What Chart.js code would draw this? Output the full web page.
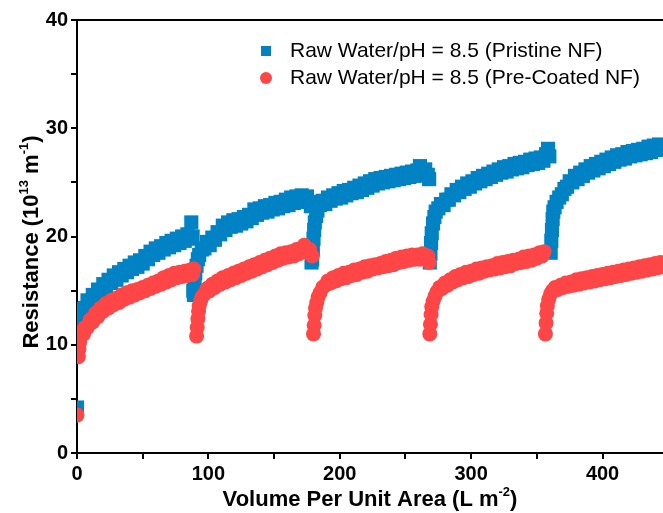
<!DOCTYPE html>
<html>
<head>
<meta charset="utf-8">
<script src="https://cdn.jsdelivr.net/npm/chart.js@4.4.0/dist/chart.umd.min.js"></script>
<style>
  html, body { margin: 0; padding: 0; background: #fff; }
  #wrap { width: 663px; height: 513px; }
</style>
</head>
<body>
<div id="wrap"><canvas id="resistance-chart" width="663" height="513"></canvas></div>
<script>
// values, 5 filtration runs per membrane
var pristineX = [0,
  1,2,3,4,6,8,10,12,14,16,18,20,22,24,26,28,30,32,34,36,38,40,42,44,46,48,50,52,54,56,58,60,62,64,66,68,70,72,74,76,78,80,82,84,86,87,88,
  88.5,89,89.5,90,91,92,93,95,97,99,101,103,105,107,109,111,113,115,117,119,121,123,125,127,129,131,133,135,137,139,141,143,145,147,149,151,153,155,157,159,161,163,165,167,169,171,173,175,177,178,
  178.5,179,179.5,180,180.5,181,182,183,185,187,189,191,193,195,197,199,201,203,205,207,209,211,213,215,217,219,221,223,225,227,229,231,233,235,237,239,241,243,245,247,249,251,253,255,257,259,261,263,265,267,268,
  268.5,269,269.5,270,271,272,273,275,277,279,281,283,285,287,289,291,293,295,297,299,301,303,305,307,309,311,313,315,317,319,321,323,325,327,329,331,333,335,337,339,341,343,345,347,349,351,353,355,357,358.5,359.5,
  360.5,361,361.5,362,362.5,363.5,365,367,369,371,373,375,377,379,381,383,385,387,389,391,393,395,397,399,401,403,405,407,409,411,413,415,417,419,421,423,425,427,429,431,433,435,437,439,441,443,445];
var pristineY = [4.2,
  11.4,12.4,12.6,13.3,13.4,14.1,13.9,14.6,14.4,15.1,14.9,15.6,15.3,16.0,15.7,16.4,16.0,16.7,16.4,17.0,16.7,17.3,17.0,17.6,17.2,17.8,17.5,18.2,17.9,18.6,18.3,18.9,18.5,19.1,18.8,19.4,19.0,19.6,19.2,19.8,19.4,20.0,19.6,20.2,19.8,21.3,20.0,
  15.0,14.6,15.8,16.6,17.3,17.9,18.3,18.8,18.9,19.5,19.2,19.9,19.7,20.4,20.2,21.0,20.6,21.3,20.9,21.5,21.0,21.6,21.2,21.8,21.4,22.0,21.7,22.5,22.0,22.6,22.2,22.8,22.3,22.9,22.5,23.1,22.6,23.2,22.8,23.4,22.9,23.6,23.1,23.7,23.2,23.8,23.3,23.7,23.2,22.8,
  17.6,17.9,18.8,19.8,20.6,21.3,21.9,22.4,22.9,23.3,23.0,23.6,23.3,23.8,23.5,24.0,23.6,24.2,23.8,24.3,24.0,24.5,24.1,24.7,24.3,24.9,24.5,25.1,24.7,25.3,24.9,25.4,25.0,25.5,25.1,25.6,25.2,25.7,25.3,25.8,25.4,25.9,25.5,26.0,25.6,26.1,26.5,25.9,26.2,25.7,25.3,
  17.6,18.4,19.4,20.3,21.2,21.8,22.3,22.6,23.0,22.9,23.4,23.4,23.9,23.8,24.3,24.1,24.6,24.4,24.9,24.6,25.1,24.9,25.4,25.1,25.6,25.3,25.8,25.5,26.0,25.7,26.2,25.9,26.4,26.0,26.5,26.2,26.7,26.3,26.8,26.4,26.9,26.6,27.1,26.7,27.2,26.8,27.3,27.0,27.6,28.1,27.4,
  18.5,19.6,20.6,21.6,22.3,22.7,23.2,23.6,23.9,24.4,24.6,25.1,25.0,25.6,25.3,25.9,25.6,26.2,25.9,26.5,26.1,26.7,26.3,26.9,26.5,27.1,26.7,27.3,26.9,27.5,27.1,27.6,27.2,27.8,27.4,27.9,27.5,28.0,27.6,28.1,27.7,28.3,27.8,28.4,28.0,28.5,28.1];

var coatedX = [0,
  1,1.5,2,3,4,5,6,8,10,12,14,16,18,20,22,24,26,28,30,32,34,36,38,40,42,44,46,48,50,52,54,56,58,60,62,64,66,68,70,72,74,76,78,80,82,84,86,88,89,
  91,91.5,92,92.5,93,94,95,97,99,101,103,105,107,109,111,113,115,117,119,121,123,125,127,129,131,133,135,137,139,141,143,145,147,149,151,153,155,157,159,161,163,165,167,169,171,173,175,177,179,
  180,180.5,181,181.5,182.5,183.5,185,187,189,191,193,195,197,199,201,203,205,207,209,211,213,215,217,219,221,223,225,227,229,231,233,235,237,239,241,243,245,247,249,251,253,255,257,259,261,263,265,267,268,
  268.5,269,269.5,270,271,272.5,274,276,278,280,282,284,286,288,290,292,294,296,298,300,302,304,306,308,310,312,314,316,318,320,322,324,326,328,330,332,334,336,338,340,342,344,346,348,350,352,354,355.5,
  356.5,357,357.5,358,359,360.5,362,364,366,368,370,372,374,376,378,380,382,384,386,388,390,392,394,396,398,400,402,404,406,408,410,412,414,416,418,420,422,424,426,428,430,432,434,436,438,440,442,444,446];
var coatedY = [3.5,
  8.9,9.6,10.2,10.8,11.2,11.0,11.6,11.6,12.3,12.1,12.9,12.6,13.4,13.1,13.8,13.4,14.1,13.7,14.3,13.9,14.6,14.2,14.8,14.4,15.0,14.6,15.1,14.8,15.3,15.0,15.5,15.2,15.7,15.4,15.9,15.6,16.2,15.8,16.4,16.0,16.6,16.2,16.7,16.3,16.8,16.4,16.9,16.5,17.0,
  10.8,11.6,12.4,13.1,13.6,14.0,14.4,14.7,15.2,15.0,15.6,15.3,15.9,15.6,16.2,15.8,16.4,16.0,16.6,16.2,16.8,16.4,17.0,16.6,17.2,16.8,17.4,17.0,17.6,17.2,17.8,17.4,18.0,17.6,18.2,17.8,18.4,18.0,18.5,18.1,18.6,18.2,18.8,18.4,18.9,19.2,18.6,18.8,18.2,
  11.0,11.8,12.7,13.4,13.9,14.4,14.8,15.3,15.5,15.9,15.7,16.2,15.9,16.4,16.1,16.6,16.2,16.7,16.4,16.9,16.5,17.0,16.7,17.2,16.8,17.3,17.0,17.4,17.1,17.5,17.2,17.7,17.3,17.8,17.4,18.0,17.6,18.1,17.7,18.2,17.8,18.3,17.9,18.3,17.9,18.4,18.0,18.2,17.6,
  11.0,11.9,12.8,13.5,14.0,14.5,14.9,15.3,15.2,15.7,15.5,16.0,15.8,16.3,16.0,16.5,16.2,16.7,16.3,16.8,16.5,17.0,16.6,17.1,16.8,17.2,16.9,17.3,17.0,17.5,17.1,17.6,17.2,17.7,17.3,17.8,17.5,17.9,17.6,18.1,17.7,18.2,17.8,18.3,18.0,18.5,18.2,18.6,
  11.0,12.0,12.9,13.6,14.2,14.7,15.0,15.3,15.1,15.5,15.3,15.7,15.4,15.8,15.5,16.0,15.6,16.1,15.7,16.2,15.8,16.3,15.9,16.4,16.0,16.5,16.1,16.6,16.2,16.7,16.3,16.8,16.4,16.9,16.5,17.0,16.6,17.1,16.7,17.2,16.8,17.3,16.9,17.4,17.0,17.5,17.1,17.6,17.2];

var seriesNames = ["Raw Water/pH = 8.5 (Pristine NF)", "Raw Water/pH = 8.5 (Pre-Coated NF)"];
var seriesColors = ["#0082c4", "#ff4646"];
var xTicks = [0, 100, 200, 300, 400];
var yTicks = [0, 10, 20, 30, 40];

var FONT = "'Liberation Sans', Arial, sans-serif";

function toPoints(xs, ys) {
  return xs.map(function(x, i) { return {x: x, y: ys[i]}; });
}

// draws text pieces, some of them raised as superscripts
function richWidth(ctx, parts) {
  var w = 0;
  parts.forEach(function(p) {
    ctx.font = "bold " + (p.sup ? 13 : 22) + "px " + FONT;
    w += ctx.measureText(p.t).width;
  });
  return w;
}
function drawRich(ctx, parts, x, y) {
  parts.forEach(function(p) {
    ctx.font = "bold " + (p.sup ? 13 : 22) + "px " + FONT;
    ctx.fillText(p.t, x, p.sup ? y - 10 : y);
    x += ctx.measureText(p.t).width;
  });
}

var extras = {
  id: 'extras',
  afterDraw: function(chart) {
    var ctx = chart.ctx, area = chart.chartArea;
    ctx.save();
    // top frame line
    ctx.strokeStyle = '#000';
    ctx.lineWidth = 2;
    ctx.beginPath();
    ctx.moveTo(area.left, area.top);
    ctx.lineTo(chart.width, area.top);
    ctx.stroke();

    ctx.fillStyle = '#000';
    ctx.textBaseline = 'alphabetic';
    ctx.textAlign = 'left';

    // x title
    var xt = [{t: 'Volume Per Unit Area (L m'}, {t: '-2', sup: true}, {t: ')'}];
    var w = richWidth(ctx, xt);
    drawRich(ctx, xt, (area.left + area.right) / 2 - w / 2, 506);

    // y title
    var yt = [{t: 'Resistance (10'}, {t: '13', sup: true}, {t: ' m'}, {t: '-1', sup: true}, {t: ')'}];
    w = richWidth(ctx, yt);
    ctx.save();
    ctx.translate(38, 242);
    ctx.rotate(-Math.PI / 2);
    drawRich(ctx, yt, -w / 2, 0);
    ctx.restore();

    // legend
    ctx.font = "21px " + FONT;
    ctx.textBaseline = 'middle';
    ctx.fillStyle = seriesColors[0];
    ctx.fillRect(261, 46, 10, 10);
    ctx.fillStyle = '#000';
    ctx.fillText(seriesNames[0], 290, 51);
    ctx.fillStyle = seriesColors[1];
    ctx.beginPath();
    ctx.arc(266, 78, 6, 0, Math.PI * 2);
    ctx.fill();
    ctx.fillStyle = '#000';
    ctx.fillText(seriesNames[1], 290, 78);
    ctx.restore();
  }
};

var tickFont = {family: FONT, size: 20, weight: 'bold'};

new Chart(document.getElementById("resistance-chart"), {
  type: 'scatter',
  data: {
    datasets: [
      {label: seriesNames[0], data: toPoints(pristineX, pristineY), order: 1,
       pointStyle: 'rect', pointRadius: 10, pointHoverRadius: 10,
       backgroundColor: seriesColors[0], borderWidth: 0},
      {label: seriesNames[1], data: toPoints(coatedX, coatedY), order: 0,
       pointStyle: 'circle', pointRadius: 7.5, pointHoverRadius: 7.5,
       backgroundColor: seriesColors[1], borderWidth: 0}
    ]
  },
  options: {
    responsive: false,
    animation: false,
    layout: {autoPadding: false, padding: {left: 0, top: 20, right: 0, bottom: 0}},
    plugins: {legend: {display: false}, tooltip: {enabled: false}},
    scales: {
      x: {
        type: 'linear', min: 0, max: 446,
        afterFit: function(s) { s.height = 60; s.paddingLeft = 0; s.paddingRight = 0; },
        border: {color: '#000', width: 2},
        grid: {drawOnChartArea: false, drawTicks: true, tickLength: 6, color: '#000', lineWidth: 2},
        ticks: {stepSize: 50, includeBounds: false, autoSkip: false, maxRotation: 0, padding: 3,
                color: '#000', font: tickFont,
                callback: function(v) { return xTicks.indexOf(v) >= 0 ? String(v) : ''; }}
      },
      y: {
        min: 0, max: 40,
        afterFit: function(s) { s.width = 77; s.paddingTop = 0; s.paddingBottom = 0; },
        border: {color: '#000', width: 2},
        grid: {drawOnChartArea: false, drawTicks: true, tickLength: 6, color: '#000', lineWidth: 2},
        ticks: {stepSize: 5, autoSkip: false, padding: 3, color: '#000', font: tickFont,
                callback: function(v) { return yTicks.indexOf(v) >= 0 ? String(v) : ''; }}
      }
    }
  },
  plugins: [extras]
});
</script>
</body>
</html>
